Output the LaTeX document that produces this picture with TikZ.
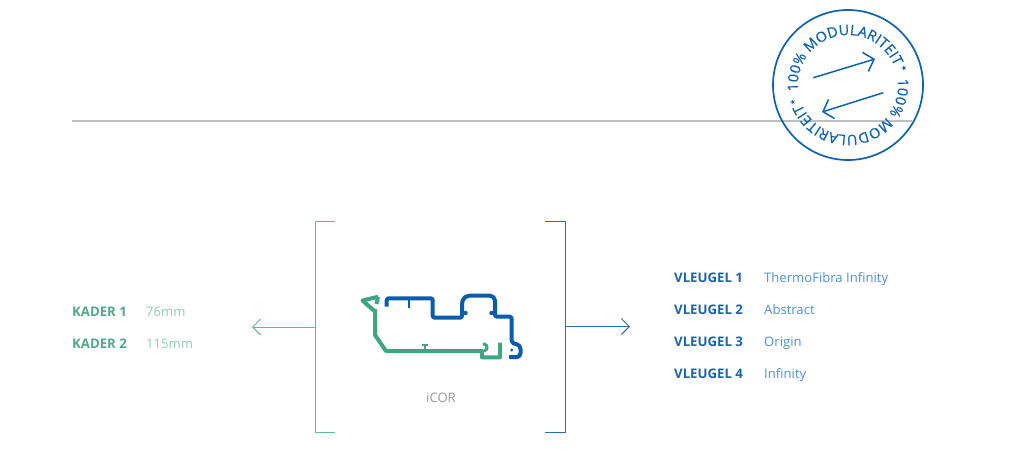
\documentclass[tikz,border=0pt]{standalone}
\usepackage{fontspec}
\setmainfont{Open Sans}
\newfontfamily\stardeja{DejaVu Sans}
\newfontfamily\ringfont[FakeBold=0.4]{Open Sans}
\usetikzlibrary{arrows.meta}
\definecolor{gbold}{HTML}{4FA98A}
\definecolor{glight}{HTML}{8FCBB2}
\definecolor{gline}{HTML}{62B79C}
\definecolor{gprof}{HTML}{3FA584}
\definecolor{bbold}{HTML}{1B63AC}
\definecolor{blight}{HTML}{4F90D2}
\definecolor{bline}{HTML}{2F6DB0}
\definecolor{bprof}{HTML}{0B5CAB}
\definecolor{badgecol}{HTML}{0F62AE}
\definecolor{rulecol}{HTML}{BDBFC0}
\definecolor{capcol}{HTML}{9A9A9A}
\tikzset{
  x=1pt,y=-1pt,
  lab/.style={anchor=base west,inner sep=0pt,font=\fontsize{13.1}{14}\selectfont},
  labb/.style={lab,font=\fontsize{13.2}{14}\selectfont\bfseries},
  tipline/.style={-{Straight Barb[length=8pt,width=16pt,line width=1pt]},line width=1pt},
  profb/.style={draw=bprof,line width=4pt,line join=round,fill=none},
  profg/.style={draw=gprof,line width=4pt,line join=round,fill=none},
  badgearrow/.style={badgecol,line width=1.5pt,-{Straight Barb[length=9pt,width=20pt,line width=1.5pt]}},
  ringletter/.style={anchor=base,inner sep=0pt,text=badgecol,font=\ringfont\fontsize{14.4}{15}\selectfont}
}
\newcommand\ringword[1]{%
  \xdef\ringpos{#1}%
  \foreach \ringch/\ringw in {1/8.9,0/8.9,0/8.9,{\%}/12.8,{ }/4,M/14,O/12,D/11.4,U/11.3,L/8,A/9.8,R/9.6,I/4.3,T/8.6,E/8.6,I/4.3,T/8.6}{%
    \pgfmathsetmacro\ringmid{\ringpos-\ringw/2*165/154}%
    \path (bc) ++(\ringmid:50pt) node[ringletter,rotate=\ringmid-90] {\ringch};
    \pgfmathsetmacro\ringnext{\ringpos-\ringw*165/154}%
    \xdef\ringpos{\ringnext}%
  }%
}
\begin{document}
\begin{tikzpicture}
\useasboundingbox (0,0) rectangle (1017,459);
% rule
\coordinate (ruleL) at (72,121);
\coordinate (ruleR) at (912,121);
\draw[rulecol,line width=1.1pt] (ruleL) -- (ruleR);
% badge
\coordinate (bc) at (848,85);
\draw[badgecol,line width=1.7pt] (bc) circle[radius=75];
\coordinate (ba1) at (813.3,77.7);
\coordinate (ba2) at (875,59);
\coordinate (ba3) at (883.3,92.7);
\coordinate (ba4) at (822,112);
\draw[badgearrow] (ba1) -- (ba2);
\draw[badgearrow] (ba3) -- (ba4);
\ringword{187}
\ringword{7}
\node[text=badgecol,inner sep=0pt,rotate=15,font=\stardeja\fontsize{7}{7}\selectfont] (s1) at (904,68.5) {★};
\node[text=badgecol,inner sep=0pt,rotate=15,font=\stardeja\fontsize{7}{7}\selectfont] (s2) at (792.7,102.5) {★};
% brackets
\coordinate (lt) at (335,221.5); \coordinate (lb) at (335,432.5);
\coordinate (rt) at (545,221.5); \coordinate (rb) at (545,432.5);
\draw[gline,line width=1pt] (lt) -- (315.5,221.5) -- (315.5,432.5) -- (lb);
\draw[bline,line width=1pt] (rt) -- (565.5,221.5) -- (565.5,432.5) -- (rb);
\coordinate (la0) at (315.5,327); \coordinate (la1) at (252,327);
\coordinate (ra0) at (565.5,326.5); \coordinate (ra1) at (630,326.5);
\draw[tipline,gline] (la0) -- (la1);
\draw[tipline,bline] (ra0) -- (ra1);
% profile
\draw[profb,rounded corners=2pt] (386.7,306.5) -- (386.7,298.3) -- (432.7,298.3) -- (432.7,317.7) -- (462,317.7) -- (462,303) [rounded corners=5pt] -- (464,295.7) -- (495,295.7) [rounded corners=2pt] -- (495,316.7) -- (511.7,316.7) -- (511.7,343) [rounded corners=4pt] -- (520.5,345) -- (520.5,357.2) [sharp corners] -- (509,357.2);
\draw[bprof,line width=2.2pt] (409.3,298) -- (409.3,308);
\fill[bprof] (465.5,313) circle[radius=2.2];
\fill[bprof] (491.5,313) circle[radius=2.2];
\fill[bprof] (511.7,350) circle[radius=1.6];
\draw[profg] (378,296.8) -- (362.5,300.5) -- (375,311.5);
\draw[profg] (378,296.8) -- (376.5,304);
\draw[profg] (375,309) -- (375,335) -- (386,351) -- (482,351) -- (482,357.3) -- (500,357.3) -- (500,342.5);
\draw[gprof,line width=3pt,rounded corners=1.5pt] (484,351) -- (487.5,349) -- (486,344) -- (482.5,344);
\draw[gprof,line width=1.8pt] (425,351) -- (425,345);
\draw[gprof,line width=1.8pt] (422,345) -- (428,345);
% texts
\node[lab,text=capcol,anchor=base] (icor) at (441,402) {iCOR};
\node[labb,text=gbold] (k1) at (72,316.3) {KADER 1};
\node[lab,text=glight] (k1v) at (146,316.3) {76mm};
\node[labb,text=gbold] (k2) at (72,348.2) {KADER 2};
\node[lab,text=glight] (k2v) at (146,348.2) {115mm};
\node[labb,text=bbold] (v1) at (674,282.2) {VLEUGEL 1};
\node[lab,text=blight] (v1v) at (764,282.2) {ThermoFibra Infinity};
\node[labb,text=bbold] (v2) at (674,314.2) {VLEUGEL 2};
\node[lab,text=blight] (v2v) at (764,314.2) {Abstract};
\node[labb,text=bbold] (v3) at (674,346.2) {VLEUGEL 3};
\node[lab,text=blight] (v3v) at (764,346.2) {Origin};
\node[labb,text=bbold] (v4) at (674,378.2) {VLEUGEL 4};
\node[lab,text=blight] (v4v) at (764,378.2) {Infinity};
\end{tikzpicture}
\end{document}
